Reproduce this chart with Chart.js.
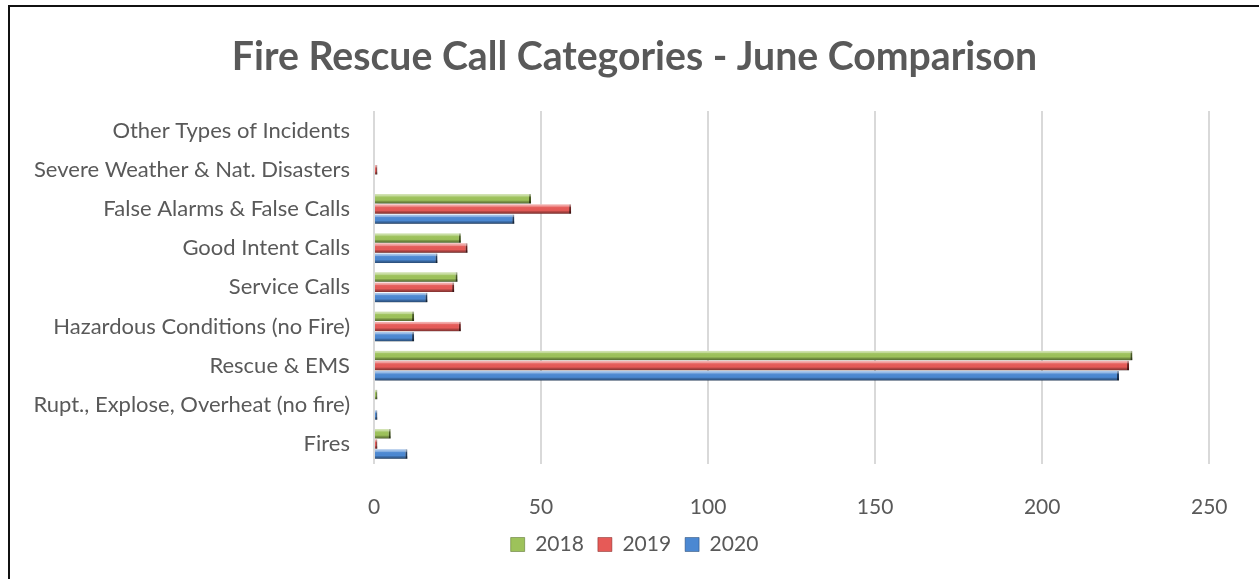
<!DOCTYPE html>
<html>
<head>
<meta charset="utf-8">
<title>Fire Rescue Call Categories - June Comparison</title>
<script src="https://cdn.jsdelivr.net/npm/chart.js@4"></script>
<style>
    html, body { margin: 0; padding: 0; background: #ffffff; }
    #wrap { position: relative; width: 1259px; height: 579px; overflow: hidden; }
    /* chart frame, only the top and left edges fall inside the window */
    #frame { position: absolute; left: 8px; top: 5px; width: 1400px; height: 700px;
             border-left: 2px solid #111; border-top: 2px solid #111; box-sizing: border-box; }
    #FireChart { position: absolute; left: 0; top: 0; }
</style>
</head>
<body>
<div id="wrap">
    <div id="frame"></div>
    <canvas id="FireChart" width="1259" height="579"></canvas>
</div>
<script>
// Call categories, listed top to bottom as they appear on the chart.
const categories = [
    "Other Types of Incidents",
    "Severe Weather & Nat. Disasters",
    "False Alarms & False Calls",
    "Good Intent Calls",
    "Service Calls",
    "Hazardous Conditions (no Fire)",
    "Rescue & EMS",
    "Rupt., Explose, Overheat (no fire)",
    "Fires"
];
const years = ["2018", "2019", "2020"];
// Number of calls per category for each June.
const calls2018 = [0, 0, 47, 26, 25, 12, 227, 1, 5];
const calls2019 = [0, 1, 59, 28, 24, 26, 226, 0, 1];
const calls2020 = [0, 0, 42, 19, 16, 12, 223, 1, 10];
const xTicks = [0, 50, 100, 150, 200, 250];

const textGray = "#595959";
const fontFamily = "Lato, 'Open Sans', sans-serif";

// Soft drop shadow under the bars.
const barShadow = {
    id: "barShadow",
    beforeDatasetsDraw(chart) {
        const ctx = chart.ctx;
        ctx.save();
        ctx.shadowColor = "rgba(0,0,0,0.3)";
        ctx.shadowBlur = 4;
        ctx.shadowOffsetX = 2;
        ctx.shadowOffsetY = 3;
    },
    afterDatasetsDraw(chart) {
        chart.ctx.restore();
    }
};

// Bevel shading laid over every bar: light top edge, dark bottom edge.
const barBevel = {
    id: "barBevel",
    afterDatasetsDraw(chart) {
        const ctx = chart.ctx;
        chart.data.datasets.forEach(function(ds, i) {
            const meta = chart.getDatasetMeta(i);
            meta.data.forEach(function(bar) {
                const w = bar.x - bar.base;
                if (w <= 0) return;
                const top = bar.y - bar.height / 2;
                const g = ctx.createLinearGradient(0, top, 0, top + bar.height);
                g.addColorStop(0, "rgba(255,255,255,0.6)");
                g.addColorStop(0.22, "rgba(255,255,255,0.35)");
                g.addColorStop(0.3, "rgba(255,255,255,0.05)");
                g.addColorStop(0.65, "rgba(0,0,0,0)");
                g.addColorStop(0.78, "rgba(0,0,0,0.22)");
                g.addColorStop(1, "rgba(0,0,0,0.45)");
                ctx.fillStyle = g;
                ctx.fillRect(bar.base, top, w, bar.height);
            });
        });
    }
};

document.addEventListener("DOMContentLoaded", function() {
    const ctx = document.getElementById("FireChart");
    const data = {
        labels: categories,
        datasets: [{
            label: years[0],
            data: calls2018,
            backgroundColor: "#9dc25a",
            borderColor: "#4f6623"
        }, {
            label: years[1],
            data: calls2019,
            backgroundColor: "#e65a57",
            borderColor: "#7a2422"
        }, {
            label: years[2],
            data: calls2020,
            backgroundColor: "#4b88d2",
            borderColor: "#23426b"
        }]
    };
    new Chart(ctx, {
        type: "bar",
        data: data,
        plugins: [barShadow, barBevel],
        options: {
            indexAxis: "y",
            responsive: false,
            animation: false,
            categoryPercentage: 0.78,
            barPercentage: 0.93,
            borderWidth: { top: 0, right: 2, bottom: 0, left: 0 },
            borderSkipped: "start",
            layout: { padding: { left: 10, right: 0, top: 0, bottom: 14 } },
            scales: {
                x: {
                    min: 0,
                    max: 250,
                    afterBuildTicks: function(scale) {
                        scale.ticks = xTicks.map(v => ({ value: v }));
                    },
                    afterFit: function(scale) { scale.height = 56.5; },
                    grid: { color: "#d9d9d9", lineWidth: 2, drawTicks: false },
                    border: { display: false },
                    ticks: { color: textGray, padding: 31.5, font: { family: fontFamily, size: 21 } }
                },
                y: {
                    afterFit: function(scale) { scale.width = 364; },
                    grid: { display: false, drawTicks: false },
                    border: { display: false },
                    ticks: { color: textGray, padding: 24, font: { family: fontFamily, size: 22 } }
                },
                // empty strip on the right, keeps the plot clear of the frame edge
                yRight: {
                    type: "linear",
                    position: "right",
                    afterFit: function(scale) { scale.width = 47; },
                    grid: { display: false, drawTicks: false },
                    border: { display: false },
                    ticks: { display: false }
                }
            },
            plugins: {
                title: {
                    display: true,
                    text: "Fire Rescue Call Categories - June Comparison",
                    color: textGray,
                    font: { family: fontFamily, size: 39.2, weight: "bold" },
                    padding: { top: 34, bottom: 30 }
                },
                legend: {
                    position: "bottom",
                    labels: {
                        color: textGray,
                        boxWidth: 14,
                        boxHeight: 14,
                        padding: 14,
                        font: { family: fontFamily, size: 21 }
                    }
                },
                tooltip: { enabled: false }
            }
        }
    });
});
</script>
</body>
</html>
